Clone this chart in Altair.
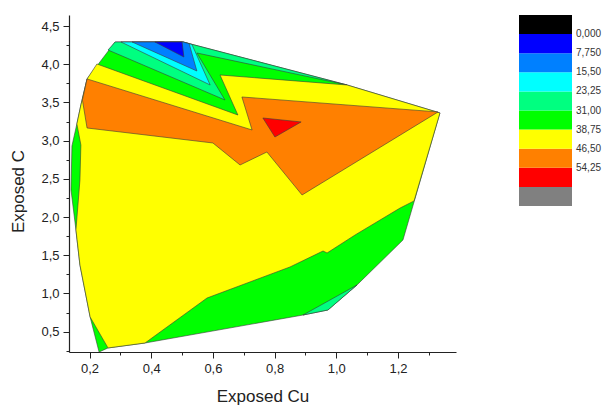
import altair as alt
import pandas as pd

FONT = "Liberation Sans"

# Legend: contour level boundaries and the palette (one colour per band, low -> high)
thresholds = [0.0, 7.75, 15.5, 23.25, 31.0, 38.75, 46.5, 54.25, 62.0]
level_colors = ["#000000", "#0000ff", "#0080ff", "#00ffff", "#00ff80",
                "#00ff00", "#ffff00", "#ff8000", "#ff0000", "#808080"]

# Axis tick positions (major + minor)
x_ticks = [0.2, 0.3, 0.4, 0.5, 0.6, 0.7, 0.8, 0.9, 1.0, 1.1, 1.2, 1.3]
y_ticks = [0.25, 0.5, 0.75, 1.0, 1.25, 1.5, 1.75, 2.0, 2.25, 2.5, 2.75, 3.0,
           3.25, 3.5, 3.75, 4.0, 4.25, 4.5]

# Contour regions (polygon vertices in data units) and their level values
hull_x = [0.283, 0.503, 1.035, 1.336, 1.216, 1.067, 0.973, 0.892, 0.380, 0.260, 0.231,
          0.202, 0.169, 0.156, 0.140, 0.143, 0.159, 0.172, 0.192]
hull_y = [4.292, 4.292, 3.729, 3.363, 1.700, 1.111, 0.784, 0.718, 0.352, 0.287, 0.234,
          0.692, 1.373, 1.831, 2.355, 2.931, 3.219, 3.467, 3.808]
hull_level = 35.0

sg_top_x = [0.260, 0.283, 0.503, 1.035, 0.548, 0.639]
sg_top_y = [4.187, 4.292, 4.292, 3.729, 4.148, 3.533]
sg_top_level = 27.0

sg_bot_x = [0.892, 0.973, 1.067]
sg_bot_y = [0.718, 0.784, 1.111]
sg_bot_level = 27.0

cyan_x = [0.302, 0.503, 0.532, 0.591]
cyan_y = [4.292, 4.292, 4.259, 3.729]
cyan_level = 19.4

azure_x = [0.338, 0.503, 0.523, 0.548]
azure_y = [4.292, 4.292, 4.270, 3.912]
azure_level = 11.6

blue_x = [0.412, 0.500, 0.506]
blue_y = [4.292, 4.292, 4.095]
blue_level = 3.9

yellow_x = [0.224, 0.681, 0.623, 1.035, 1.336, 1.252, 1.207, 1.061, 0.970, 0.957, 0.850,
            0.581, 0.380, 0.260, 0.202, 0.169, 0.156, 0.169, 0.172, 0.159, 0.172, 0.192]
yellow_y = [4.004, 3.336, 3.860, 3.729, 3.363, 2.211, 2.119, 1.766, 1.530, 1.556, 1.347,
            0.941, 0.352, 0.287, 0.692, 1.373, 1.831, 2.486, 2.944, 3.219, 3.467, 3.808]
yellow_level = 42.6

orange_x = [0.192, 0.727, 0.694, 1.330, 0.889, 0.775, 0.688, 0.600, 0.192, 0.177]
orange_y = [3.808, 3.140, 3.572, 3.376, 2.289, 2.852, 2.682, 2.970, 3.166, 3.533]
orange_level = 50.4

red_x = [0.762, 0.886, 0.801]
red_y = [3.297, 3.245, 3.048]
red_level = 58.1

polygons = [
    (hull_x, hull_y, hull_level),
    (sg_top_x, sg_top_y, sg_top_level),
    (sg_bot_x, sg_bot_y, sg_bot_level),
    (cyan_x, cyan_y, cyan_level),
    (azure_x, azure_y, azure_level),
    (blue_x, blue_y, blue_level),
    (yellow_x, yellow_y, yellow_level),
    (orange_x, orange_y, orange_level),
    (red_x, red_y, red_level),
]

# The colour bar runs from low (top) to high (bottom): the scale works on the
# negated level so that the vertical legend puts the lowest band on top.
neg_thresholds = [-t for t in reversed(thresholds)]
neg_colors = list(reversed(level_colors))

x_major = "abs(datum.value*5-round(datum.value*5))<0.001"
y_major = "abs(datum.value*2-round(datum.value*2))<0.001"

xaxis = alt.Axis(
    values=x_ticks, title="Exposed Cu", grid=False,
    labelExpr=x_major + " ? replace(format(datum.value,'.1f'),'.',',') : ''",
    tickSize={"condition": {"test": x_major, "value": 6}, "value": 3},
    labelPadding=4, labelFont=FONT, labelFontSize=13, labelColor="#222",
    labelFlush=False, labelOverlap=False,
    titleFont=FONT, titleFontSize=17, titleFontWeight="normal", titleColor="#222",
    titleX=193.5, titleY=49.5, titleBaseline="alphabetic",
    domainColor="#222", tickColor="#222", domainWidth=1.2, tickWidth=1,
)
yaxis = alt.Axis(
    values=y_ticks, title="Exposed C", grid=False,
    labelExpr=y_major + " ? replace(format(datum.value,'.1f'),'.',',') : ''",
    tickSize={"condition": {"test": y_major, "value": 6}, "value": 3},
    labelPadding=4, labelFont=FONT, labelFontSize=13, labelColor="#222",
    labelFlush=False, labelOverlap=False,
    titleFont=FONT, titleFontSize=17, titleFontWeight="normal", titleColor="#222",
    titleX=-46, titleY=176, titleBaseline="alphabetic",
    domainColor="#222", tickColor="#222", domainWidth=1.2, tickWidth=1,
)
xscale = alt.Scale(domain=[0.1335, 1.388], nice=False, zero=False)
yscale = alt.Scale(domain=[0.234, 4.645], nice=False, zero=False)
fillscale = alt.Scale(type="threshold", domain=neg_thresholds, range=neg_colors)
legend = alt.Legend(
    type="gradient", orient="none", legendX=450, legendY=0, direction="vertical",
    gradientLength=191, gradientThickness=53, gradientStrokeWidth=0, title=None,
    labelExpr=(
        "!isFinite(datum.value) || datum.value < -60 ? '' : "
        "(datum.value == 0 ? '0,000' : replace(format(0 - datum.value,'.4r'),'.',','))"
    ),
    labelFont=FONT, labelFontSize=10, labelColor="#333", labelOffset=4,
    labelBaseline="middle", labelOverlap=False,
)


def region(xs, ys, lvl):
    n = len(xs)
    df = pd.DataFrame({
        "x": list(xs) + [xs[0]],
        "y": list(ys) + [ys[0]],
        "i": list(range(n + 1)),
        "level": [lvl] * (n + 1),
    })
    return alt.Chart(df).transform_calculate(
        neg_level="-datum.level"
    ).mark_line(
        stroke="#3a3a3a", strokeWidth=0.6, strokeJoin="round"
    ).encode(
        x=alt.X("x:Q", scale=xscale, axis=xaxis),
        y=alt.Y("y:Q", scale=yscale, axis=yaxis),
        fill=alt.Fill("neg_level:Q", scale=fillscale, legend=legend),
        order=alt.Order("i:Q"),
    )


chart = alt.layer(*[region(*p) for p in polygons]).properties(
    width=387, height=337,
    autosize=alt.AutoSizeParams(type="none"),
    padding={"left": 69, "top": 15, "right": 147, "bottom": 54},
    background="white",
).configure_view(stroke=None)

chart.save("out.html", embed_options={"renderer": "svg", "actions": False})
